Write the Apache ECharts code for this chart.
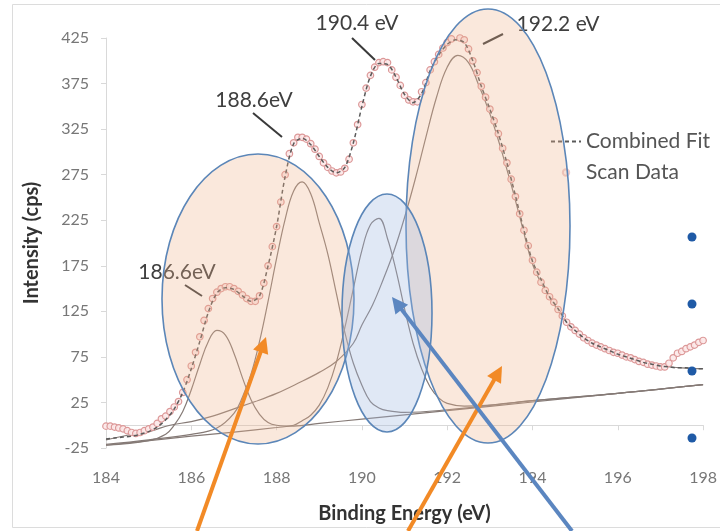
<!DOCTYPE html>
<html>
<head>
<meta charset="utf-8">
<script src="https://cdn.jsdelivr.net/npm/echarts@6/dist/echarts.min.js"></script>
<style>
  html, body { margin: 0; padding: 0; background: #ffffff; }
  #chart { width: 720px; height: 531px; }
</style>
</head>
<body>
<div id="chart"></div>
<script>
// ---- XPS scan: binding energy grid (eV) and measured intensity (cps) ----
const scanStart = 184.0;
const scanStep = 0.1;
const scanIntensity = [
  -1, -1, -2, -3, -4, -6, -8, -9, -8, -6,
  -4, -2, 2, 7, 10, 15, 20, 26, 36, 50,
  65, 80, 97, 115, 128, 139, 146, 150, 152, 152,
  150, 147, 143, 139, 136, 136, 142, 156, 175, 196,
  218, 245, 275, 298, 310, 316, 316, 314, 309, 303,
  295, 288, 283, 279, 277, 278, 282, 292, 310, 330,
  352, 370, 384, 393, 398, 399, 398, 390, 382, 373,
  362, 357, 355, 355, 366, 376, 390, 399, 407, 414,
  420, 424, 426, 425, 423, 413, 400, 387, 372, 360,
  347, 334, 320, 304, 288, 270, 251, 232, 214, 197,
  181, 168, 157, 148, 141, 135, 127, 120, 113, 108,
  104, 100, 96, 93, 90, 88, 86, 84, 82, 80,
  79, 77, 75, 74, 72, 70, 69, 67, 66, 65,
  64, 64, 68, 74, 79, 81, 84, 86, 88, 91,
  93
];

// ---- Combined fit, sampled every 0.2 eV ----
const fitStart = 184.0;
const fitStep = 0.2;
const fitIntensity = [
  -15, -14, -13, -12, -10, -7, -2, 6, 18, 36,
  62, 92, 124, 145, 151, 149, 142, 136, 142, 175,
  218, 273, 309, 315, 308, 295, 283, 277, 283, 310,
  350, 383, 397, 396, 382, 363, 354, 364, 389, 406,
  418, 423, 420, 400, 372, 347, 320, 288, 252, 214,
  180, 160, 141, 128, 113, 104, 96, 90, 86, 82,
  78, 75, 72, 69, 67, 65, 64, 63, 63, 62,
  62
];

// ---- Individual fitted components (each drawn on top of the background) ----
const peak1866 = [[184,-22],[185,-17],[185.4,-10],[185.6,0],[185.8,15],[186,39],[186.2,67],[186.4,92],[186.6,104],[186.8,99],[187,79],[187.2,52],[187.4,28],[187.6,12],[187.8,3],[188,0],[188.4,-1],[189,2],[190,6.7],[192,16],[194,25.5],[196,35],[198,44.5]];
const peak1886 = [[184,-21],[185,-16],[186,-10],[186.6,-3],[187,13],[187.2,31],[187.4,56],[187.6,92],[187.8,136],[188,183],[188.2,226],[188.4,257],[188.6,267],[188.8,254],[189,222],[189.2,188],[189.4,145],[189.6,102],[189.8,68],[190,44],[190.2,26],[190.4,19],[190.6,16],[191,14],[192,17],[194,27],[196,35],[198,44.5]];
const peak1904 = [[184,-22],[186,-12],[187,-7.5],[188,-2.5],[188.4,0],[188.6,5],[188.8,11],[189,22],[189.2,41],[189.4,69],[189.6,107],[189.8,150],[190,192],[190.2,220],[190.4,227],[190.6,205],[190.8,170],[191,128],[191.2,90],[191.4,62],[191.6,42],[191.8,30],[192,24],[192.4,21],[193,22],[194,27],[196,35],[198,44.5]];
const peak1922 = [[184,-16],[184.5,-11],[185,-7],[185.5,0],[186,4],[186.5,10],[187,18],[187.5,26],[188,35],[188.5,46],[189,58],[189.4,70],[189.8,90],[190,110],[190.25,132],[190.5,160],[190.75,191],[191,228],[191.25,270],[191.5,316],[191.75,360],[192,393],[192.25,406],[192.5,398],[192.75,372],[193,342],[193.25,305],[193.5,264],[193.75,220],[194,177],[194.25,152],[194.5,133],[194.75,116],[195,103],[195.5,87],[196,77],[196.5,70],[197,65],[197.5,63],[198,62]];

// ---- Axis ticks ----
const energyTicks = { min: 184, max: 198, interval: 2 };
const intensityTicks = { min: -25, max: 425, interval: 50 };

// ---- Peak labels ----
const peakLabels = ['186.6eV', '188.6eV', '190.4 eV', '192.2 eV'];
const seriesNames = ['Combined Fit', 'Scan Data'];

const scanData = scanIntensity.map((v, i) => [+(scanStart + i * scanStep).toFixed(1), v]);
const fitData = fitIntensity.map((v, i) => [+(fitStart + i * fitStep).toFixed(1), v]);

const FONT = 'Lato, "Open Sans", "Liberation Sans", sans-serif';

const componentStyle = { color: '#857a76', width: 1.2 };
function component(data) {
  return {
    type: 'line', data: data, smooth: 0.4,
    showSymbol: false, symbol: 'none', silent: true,
    lineStyle: componentStyle, itemStyle: { color: '#857a76' }, z: 2
  };
}

// Arrow helper: shaft plus triangular head, in screen pixels
function arrow(x1, y1, x2, y2, color, width, headLen, headHalf) {
  const dx = x2 - x1, dy = y2 - y1, len = Math.hypot(dx, dy);
  const ux = dx / len, uy = dy / len, nx = -uy, ny = ux;
  const bx = x2 - ux * headLen, by = y2 - uy * headLen;
  return [
    { type: 'line', z: 30, shape: { x1: x1, y1: y1, x2: bx + ux * 2, y2: by + uy * 2 },
      style: { stroke: color, lineWidth: width, lineCap: 'butt' } },
    { type: 'polygon', z: 30,
      shape: { points: [[x2, y2], [bx + nx * headHalf, by + ny * headHalf], [bx - nx * headHalf, by - ny * headHalf]] },
      style: { fill: color } }
  ];
}

function label(text, x, y) {
  return { type: 'text', z: 5, x: x, y: y,
    style: { text: text, font: '21px ' + FONT, fill: '#3f3f3f',
      textAlign: 'center', textVerticalAlign: 'middle', align: 'center', verticalAlign: 'middle' } };
}
function leader(x1, y1, x2, y2) {
  return { type: 'line', z: 5, shape: { x1: x1, y1: y1, x2: x2, y2: y2 },
    style: { stroke: '#3a3a3a', lineWidth: 2 } };
}

const peach = 'rgba(238,178,140,0.30)';
const blueFill = 'rgba(160,185,225,0.32)';
const ellipseStroke = '#5b86b8';

const graphics = [
  // frame
  { type: 'rect', z: 0, shape: { x: 12.5, y: 4.5, width: 720, height: 523 },
    style: { fill: 'none', stroke: '#dcdcdc', lineWidth: 1 } },
  // peak annotations
  label(peakLabels[0], 177, 272), leader(185, 285, 202, 296),
  label(peakLabels[1], 254, 100), leader(253, 113, 282, 137),
  label(peakLabels[2], 357, 23), leader(352, 38, 375, 60),
  label(peakLabels[3], 558, 24), leader(483, 44, 503, 34),
  // highlighted regions
  { type: 'ellipse', z: 10, shape: { cx: 258, cy: 299, rx: 96, ry: 145 },
    style: { fill: peach, stroke: ellipseStroke, lineWidth: 1.6 } },
  { type: 'ellipse', z: 11, shape: { cx: 488, cy: 226, rx: 82, ry: 217 },
    style: { fill: peach, stroke: ellipseStroke, lineWidth: 1.6 } },
  { type: 'ellipse', z: 12, shape: { cx: 387, cy: 313, rx: 45, ry: 119 },
    style: { fill: blueFill, stroke: ellipseStroke, lineWidth: 1.6 } },
  // bullets
  { type: 'circle', z: 20, shape: { cx: 692, cy: 237, r: 4.5 }, style: { fill: '#1f5aa6' } },
  { type: 'circle', z: 20, shape: { cx: 692, cy: 304, r: 4.5 }, style: { fill: '#1f5aa6' } },
  { type: 'circle', z: 20, shape: { cx: 692, cy: 371, r: 4.5 }, style: { fill: '#1f5aa6' } },
  { type: 'circle', z: 20, shape: { cx: 692, cy: 438, r: 4.5 }, style: { fill: '#1f5aa6' } }
]
  .concat(arrow(197, 531, 266, 337, '#f28a26', 4, 16, 8))
  .concat(arrow(408, 531, 502, 366, '#f28a26', 4, 16, 8))
  .concat(arrow(572, 531, 392, 297, '#5b86c0', 4, 16, 8));

const chart = echarts.init(document.getElementById('chart'), null, { renderer: 'canvas' });
chart.setOption({
  animation: false,
  backgroundColor: '#ffffff',
  textStyle: { fontFamily: FONT },
  grid: { left: 106, right: 0, top: 38, bottom: 83, containLabel: false },
  legend: {
    data: [
      { name: seriesNames[0], itemStyle: { opacity: 0 } },
      { name: seriesNames[1], itemStyle: { opacity: 0.5 } }
    ],
    orient: 'vertical', left: 545, top: 126,
    itemWidth: 30, itemHeight: 8, itemGap: 10,
    textStyle: { fontSize: 21, color: '#555555', fontFamily: FONT }
  },
  xAxis: {
    type: 'value', min: energyTicks.min, max: energyTicks.max, interval: energyTicks.interval,
    name: 'Binding Energy (eV)', nameLocation: 'middle', nameGap: 56,
    nameTextStyle: { fontSize: 20, fontWeight: 'bold', color: '#333333', fontFamily: FONT },
    axisLine: { show: true, lineStyle: { color: '#d9d9d9', width: 1 } },
    axisTick: { show: true, length: 5, lineStyle: { color: '#d9d9d9' } },
    axisLabel: { fontSize: 16, color: '#777777', margin: 22, showMaxLabel: true },
    splitLine: { show: false }
  },
  yAxis: {
    type: 'value', min: intensityTicks.min, max: intensityTicks.max, interval: intensityTicks.interval,
    name: 'Intensity (cps)', nameLocation: 'middle', nameGap: 64, nameRotate: 90,
    nameTextStyle: { fontSize: 20, fontWeight: 'bold', color: '#333333', fontFamily: FONT },
    axisLine: { show: true, lineStyle: { color: '#d9d9d9', width: 1 } },
    axisTick: { show: true, length: 5, lineStyle: { color: '#d9d9d9' } },
    axisLabel: { fontSize: 16, color: '#777777', margin: 17 },
    splitLine: { show: false }
  },
  series: [
    component(peak1866),
    component(peak1886),
    component(peak1904),
    component(peak1922),
    {
      name: seriesNames[1], type: 'line', data: scanData,
      symbol: 'circle', symbolSize: 6.5, showSymbol: true,
      lineStyle: { opacity: 0 },
      itemStyle: { color: 'rgba(252,232,232,0.9)', borderColor: '#dc9898', borderWidth: 1.2 },
      z: 3
    },
    {
      name: seriesNames[0], type: 'line', data: fitData, smooth: 0.3,
      showSymbol: false, symbol: 'none',
      lineStyle: { color: '#5a5a5a', width: 1.5, type: [4, 3] },
      itemStyle: { color: '#5a5a5a' },
      z: 4
    }
  ],
  graphic: { elements: graphics }
});
</script>
</body>
</html>
